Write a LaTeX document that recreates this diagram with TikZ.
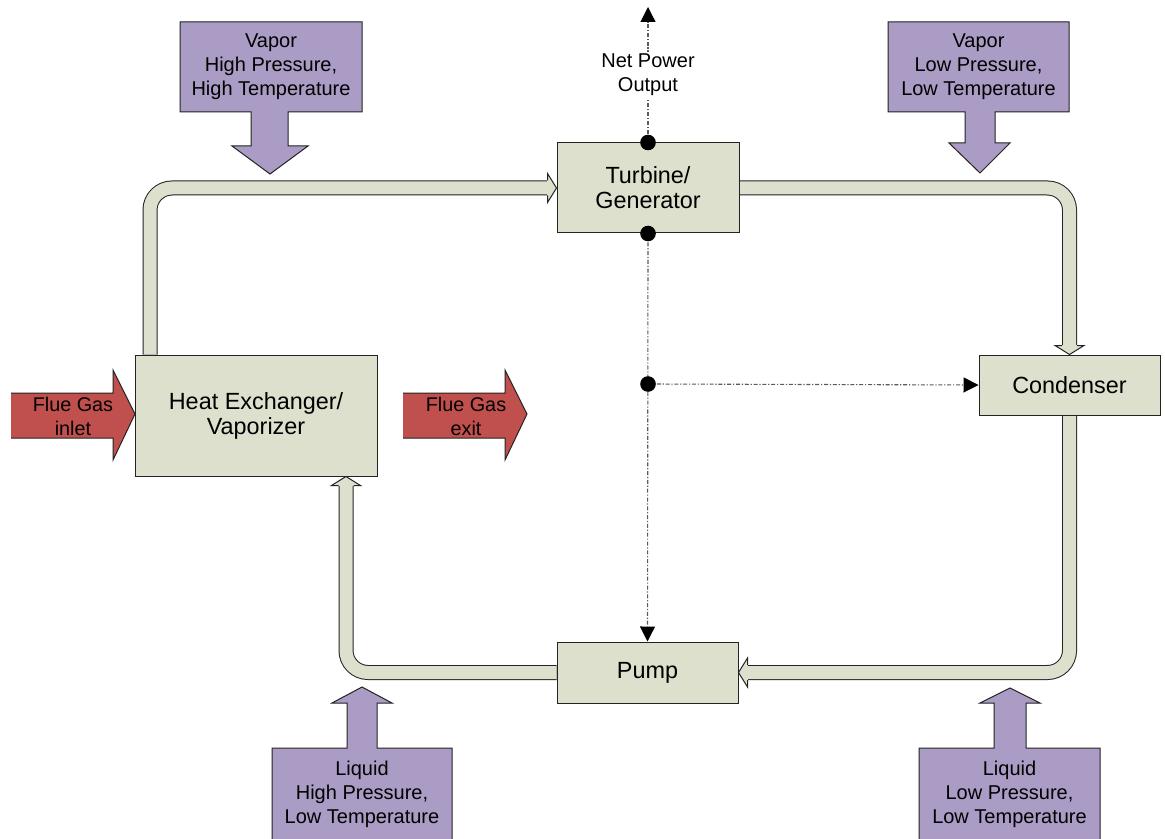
\documentclass[tikz,border=0pt]{standalone}
\usepackage{fontspec}
\setmainfont{Liberation Sans}
\usetikzlibrary{arrows.meta,calc}
\definecolor{boxfill}{RGB}{221,224,204}
\definecolor{purp}{RGB}{170,156,196}
\definecolor{fred}{RGB}{192,80,77}
\definecolor{edge}{RGB}{35,35,35}
\definecolor{dotgray}{RGB}{90,90,90}
\newcommand{\pipehead}[2]{%
  \begin{scope}[shift={(#1)},rotate=#2]
    \fill[boxfill] (-9.3,-14.5) -- (0,0) -- (-9.3,14.5) -- cycle;
    \draw[edge,line width=0.5pt,line join=miter] (-9,-7.5) -- (-9,-14.5) -- (0,0) -- (-9,14.5) -- (-9,7.5);
  \end{scope}}
\tikzset{
  unit/.style={draw=edge, fill=boxfill, line width=0.5pt, inner sep=0pt, align=center,
               font=\fontsize{11.7}{12.5}\selectfont},
  pipe/.style={draw=edge, line width=0.5pt, double=boxfill, double distance=6.5pt, rounded corners=11pt},
  dashdot/.style={draw=dotgray, line width=0.55pt, dash pattern=on 2pt off 0.9pt on 0.6pt off 0.9pt},
  tipped/.style={-{Triangle[length=7.5pt,width=7.5pt,color=black]}},
  bigdot/.style={fill=black},
  callout/.style={draw=edge, fill=purp, line width=0.5pt, line join=miter},
  calltext/.style={align=center, inner sep=0pt, font=\fontsize{10}{12}\selectfont},
  flue/.style={fill=fred},
  flueedge/.style={draw=edge, line width=0.5pt, line join=miter},
  fluetext/.style={align=center, inner sep=0pt, font=\fontsize{9.9}{12}\selectfont}
}
\begin{document}
\begin{tikzpicture}[x=0.5pt, y=-0.5pt]
\useasboundingbox (0,0) rectangle (1165,839);
\clip (0,0) rectangle (1165,839);
\fill[white] (0,0) rectangle (1165,839);

% unit nodes (placed first so pipes can refer to them; redrawn on top later)
\path (648,188) node[unit, minimum width=91pt, minimum height=45pt] (turb) {Turbine/\\Generator};
\path (256,415.5) node[unit, minimum width=121pt, minimum height=60.5pt] (hx) {Heat Exchanger/\\Vaporizer};
\path (1069.5,385) node[unit, minimum width=90.5pt, minimum height=30pt] (cond) {Condenser};
\path (647.5,672.5) node[unit, minimum width=90.5pt, minimum height=30.5pt] (pump) {Pump};

% pipes
\coordinate (hxout) at ($(hx.north west)+(15.5,0)$);
\coordinate (hxin) at ($(hx.south east)+(-31.5,0)$);
\draw[pipe] (hxout) |- ($(turb.west)+(-9,0)$);
\pipehead{turb.west}{0}
\draw[pipe] (turb.east) -| ($(cond.north)+(0,-9)$);
\pipehead{cond.north}{-90}
\draw[pipe] (cond.south) |- ($(pump.east)+(9,0)$);
\pipehead{pump.east}{180}
\draw[pipe] (pump.west) -| ($(hxin)+(0,9)$);
\pipehead{hxin}{90}

% redraw units on top
\path (648,188) node[unit, minimum width=91pt, minimum height=45pt] {Turbine/\\Generator};
\path (256,415.5) node[unit, minimum width=121pt, minimum height=60.5pt] {Heat Exchanger/\\Vaporizer};
\path (1069.5,385) node[unit, minimum width=90.5pt, minimum height=30pt] {Condenser};
\path (647.5,672.5) node[unit, minimum width=90.5pt, minimum height=30.5pt] {Pump};

% power lines
\coordinate (np) at (648,7);
\coordinate (mid) at (648,384);
\draw[dashdot, tipped] (turb.north) -- (np);
\node[fill=white, inner sep=1pt, align=center, font=\fontsize{10}{12}\selectfont] (nptext) at (648,75) {Net Power\\Output};
\draw[dashdot, tipped] (turb.south) -- (pump.north);
\draw[dashdot, tipped] (mid) -- (cond.west);
\fill[bigdot] (turb.north) circle[radius=3.9pt];
\fill[bigdot] (turb.south) circle[radius=3.9pt];
\fill[bigdot] (mid) circle[radius=3.9pt];

% flue gas arrows
\fill[flue] (11,393) -- (113,393) -- (113,370) -- (135,414) -- (113,460) -- (113,438) -- (11,438) -- cycle;
\draw[flueedge] (11,393) -- (113,393) -- (113,370) -- (135,414) -- (113,460) -- (113,438) -- (11,438);
\node[fluetext] (fin) at (73,416) {Flue Gas\\inlet};
\fill[flue] (403,393) -- (505,393) -- (505,370) -- (527,414) -- (505,460) -- (505,438) -- (403,438) -- cycle;
\draw[flueedge] (403,393) -- (505,393) -- (505,370) -- (527,414) -- (505,460) -- (505,438) -- (403,438);
\node[fluetext] (fout) at (466,416) {Flue Gas\\exit};

% state callouts
\draw[callout] (180,22) -- (362,22) -- (362,112) -- (288,112) -- (288,146) -- (308,146) -- (270,174)
  -- (232,146) -- (251,146) -- (251,112) -- (180,112) -- cycle;
\node[calltext] (c1) at (271,67) {Vapor\\High Pressure,\\High Temperature};

\draw[callout] (888,22) -- (1069,22) -- (1069,112) -- (995,112) -- (995,143) -- (1010,143) -- (980,173)
  -- (949,143) -- (965,143) -- (965,112) -- (888,112) -- cycle;
\node[calltext] (c2) at (978.5,67) {Vapor\\Low Pressure,\\Low Temperature};

\draw[callout] (272,842) -- (272,748) -- (347,748) -- (347,703) -- (332,703) -- (362,687) -- (392,703)
  -- (377,703) -- (377,748) -- (452,748) -- (452,842) -- cycle;
\node[calltext] (c3) at (362,794) {Liquid\\High Pressure,\\Low Temperature};

\draw[callout] (919,842) -- (919,748) -- (994,748) -- (994,703) -- (980,703) -- (1010,688) -- (1040,703)
  -- (1026,703) -- (1026,748) -- (1100,748) -- (1100,842) -- cycle;
\node[calltext] (c4) at (1009.5,794) {Liquid\\Low Pressure,\\Low Temperature};
\end{tikzpicture}
\end{document}
